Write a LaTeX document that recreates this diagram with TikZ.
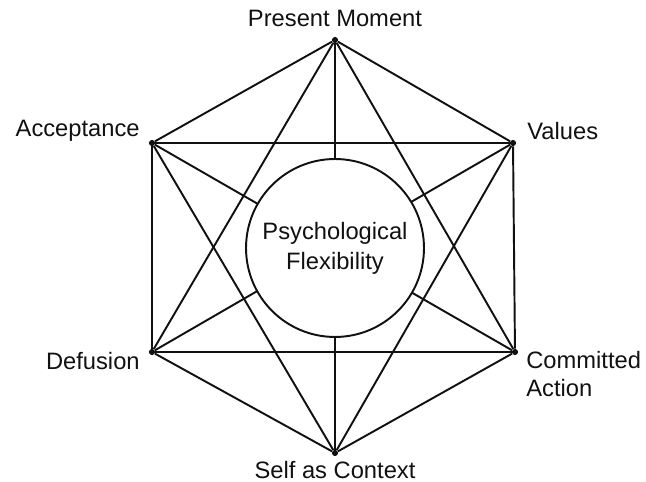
\documentclass[tikz,border=0pt]{standalone}
\usepackage{fontspec}
\setmainfont{Liberation Sans}
\usetikzlibrary{positioning}
\definecolor{Ink}{HTML}{111111}
\tikzset{
  corner/.style={circle, fill=Ink, inner sep=0pt, minimum size=3.5pt},
  tag/.style={font=\fontsize{13.5}{16}\selectfont, text=Ink, inner sep=0pt},
  spoke/.style={draw=Ink, line width=1.1pt}
}

\begin{document}
\begin{tikzpicture}[x=0.02cm, y=-0.02cm]
  \useasboundingbox (0,0) rectangle (646,482);
  % six corners of the hexaflex
  \node[corner] (pm) at (335,40)  {};
  \node[corner] (va) at (513,143) {};
  \node[corner] (ca) at (515,352) {};
  \node[corner] (sc) at (335,453) {};
  \node[corner] (de) at (152,352) {};
  \node[corner] (ac) at (152,143) {};
  % every corner joined to every other
  \foreach \a/\b in {pm/va,pm/ca,pm/sc,pm/de,pm/ac,
                     va/ca,va/sc,va/de,va/ac,
                     ca/sc,ca/de,ca/ac,
                     sc/de,sc/ac,
                     de/ac}
    \draw[spoke] (\a) -- (\b);
  % hub
  \node[spoke, circle, fill=white, inner sep=0pt, minimum size=3.56cm,
        align=center, tag] (hub) at (335,248)
        {Psychological\\[1pt]Flexibility};
  % labels
  \node[tag] (pmlab) at (335,18)  {Present Moment};
  \node[tag, anchor=east] (aclab) at (140,131) {Acceptance};
  \node[tag, anchor=west] (valab) at (527,131) {Values};
  \node[tag, anchor=east] (delab) at (140,361) {Defusion};
  \node[tag, anchor=north west, align=left] (calab) at (526,351) {Committed\\Action};
  \node[tag] (sclab) at (335,470) {Self as Context};
\end{tikzpicture}
\end{document}
